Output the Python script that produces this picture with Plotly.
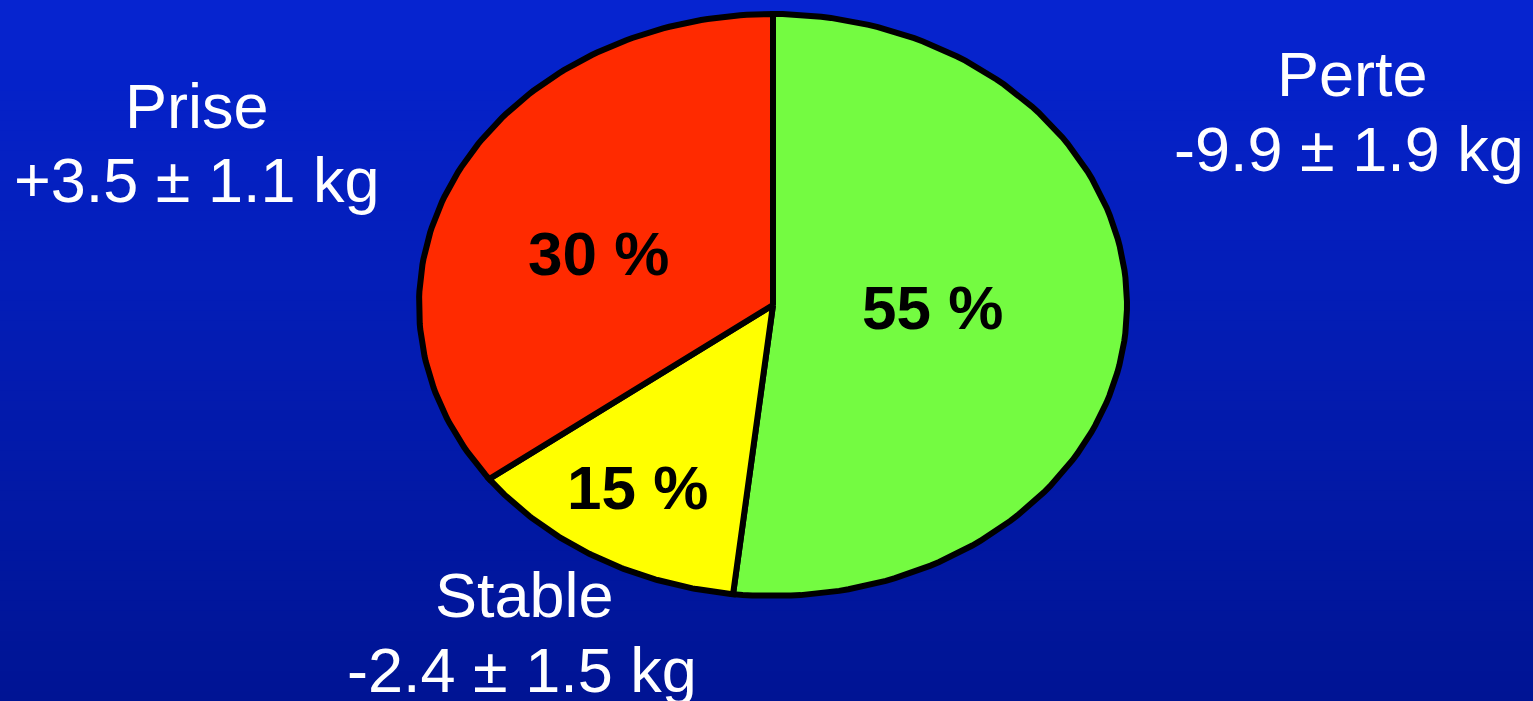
import numpy as np
import plotly.graph_objects as go

# ---- data ----
categories = ["Perte", "Stable", "Prise"]
shares = [51.8, 13.0, 35.2]            # slice sizes as drawn (percent of ellipse)
pct_labels = ["55 %", "15 %", "30 %"]   # printed labels
details = ["-9.9 ± 1.9 kg", "-2.4 ± 1.5 kg", "+3.5 ± 1.1 kg"]
slice_colors = ["#74FB41", "#FFFF00", "#FF2A00"]

W, H = 1533, 701
CX, CY = 773, 305          # ellipse centre (px)
RX, RY = 354, 291          # ellipse radii (px)

fig = go.Figure()

# background gradient (top bright blue -> bottom navy)
top = np.array([6, 36, 208])
bot = np.array([0, 20, 148])
n = 70
for i in range(n):
    t = i / (n - 1)
    c = top + (bot - top) * t
    fig.add_shape(type="rect", xref="paper", yref="paper",
                  x0=0, x1=1, y0=1 - i / n, y1=1 - (i + 1) / n - 0.002,
                  fillcolor="rgb(%d,%d,%d)" % tuple(c.round().astype(int)),
                  line_width=0, layer="below")

# slices: angle measured clockwise from 12 o'clock, unit circle in data space
cum = np.concatenate([[0], np.cumsum(shares)]) / sum(shares) * 2 * np.pi
for k, name in enumerate(categories):
    a = np.linspace(cum[k], cum[k + 1], 120)
    xs = np.concatenate([[0], np.sin(a), [0]])
    ys = np.concatenate([[0], np.cos(a), [0]])
    fig.add_trace(go.Scatter(x=xs, y=ys, mode="lines", fill="toself",
                             fillcolor=slice_colors[k],
                             line=dict(color="black", width=6),
                             hoverinfo="skip", showlegend=False, name=name))

# axis ranges so that 1 unit = RX px horizontally and RY px vertically
fig.update_xaxes(range=[-CX / RX, (W - CX) / RX], visible=False, fixedrange=True)
fig.update_yaxes(range=[-(H - CY) / RY, CY / RY], visible=False, fixedrange=True)

def px(x, y):
    return x / W, 1 - y / H

annos = []
# percentage labels inside slices
pct_pos = [(932, 307), (637, 487), (598, 253)]
for lab, (x, y) in zip(pct_labels, pct_pos):
    xx, yy = px(x, y)
    annos.append(dict(x=xx, y=yy, xref="paper", yref="paper", text="<b>%s</b>" % lab,
                      showarrow=False, xanchor="center", yanchor="middle",
                      font=dict(family="Arial, Liberation Sans, sans-serif", size=62, color="black")))

# category labels (two lines each)
name_pos = [(1352, 74), (524, 595), (197, 106)]
det_pos = [(1349, 149), (522, 670), (197, 180)]
for k in range(3):
    for txt, (x, y) in ((categories[k], name_pos[k]), (details[k], det_pos[k])):
        xx, yy = px(x, y)
        annos.append(dict(x=xx, y=yy, xref="paper", yref="paper", text=txt,
                          showarrow=False, xanchor="center", yanchor="middle",
                          font=dict(family="Arial, Liberation Sans, sans-serif", size=63, color="white")))

fig.update_layout(width=W, height=H, margin=dict(l=0, r=0, t=0, b=0),
                  paper_bgcolor="rgb(3,28,180)", plot_bgcolor="rgba(0,0,0,0)",
                  annotations=annos, showlegend=False)

fig.write_html("out.html", config={"displayModeBar": False},
               post_script="document.body.style.margin='0';document.body.style.overflow='hidden';")
